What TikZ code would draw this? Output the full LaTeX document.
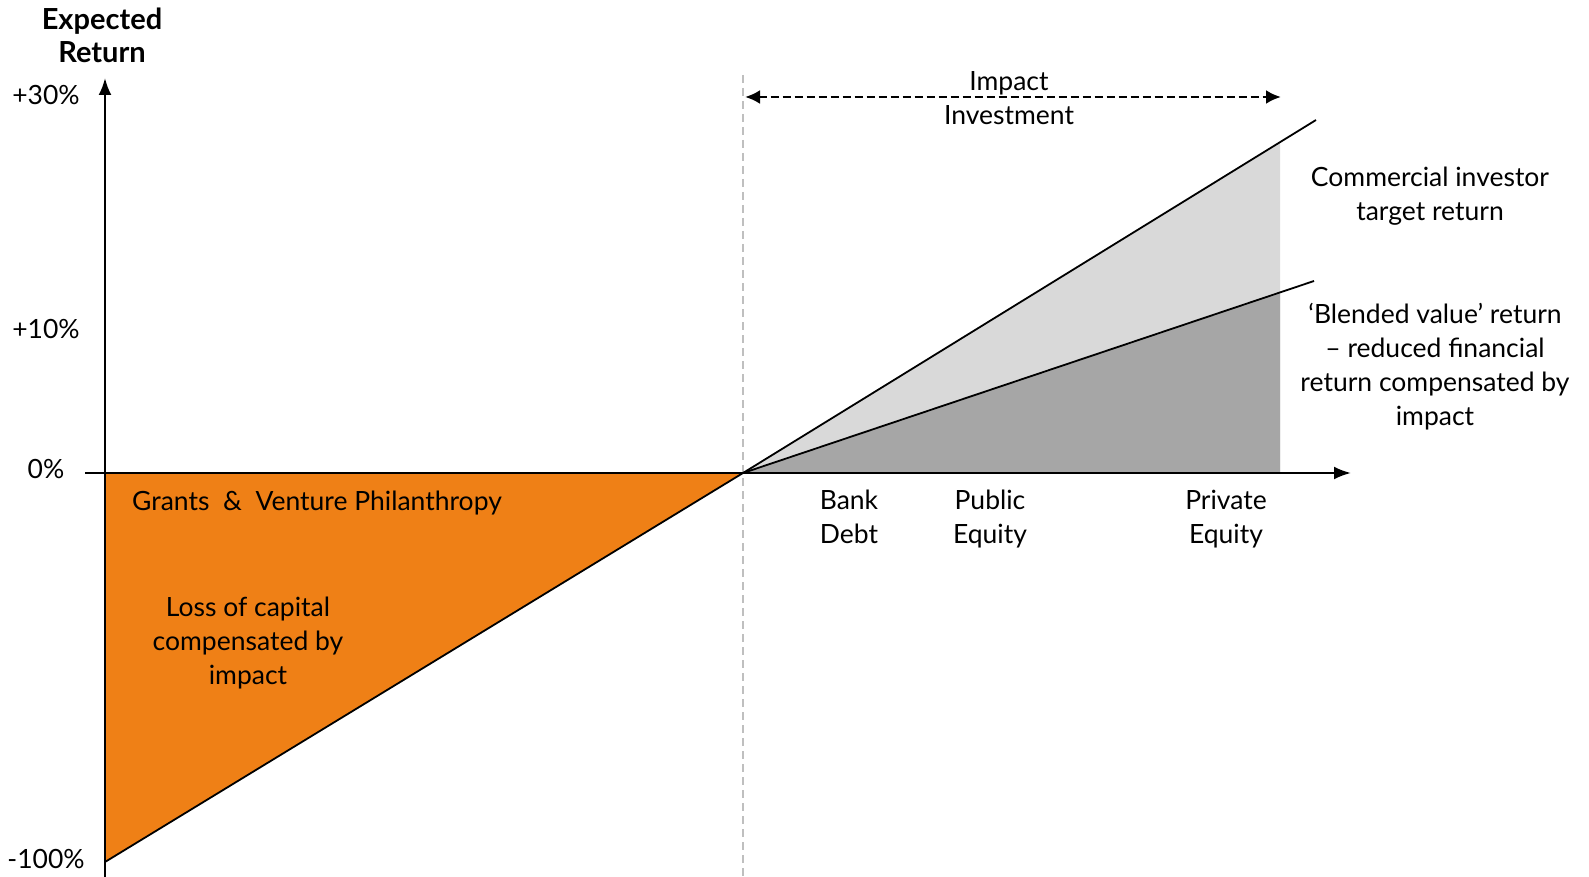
\documentclass[tikz,border=0pt]{standalone}
\usepackage{fontspec}
\setmainfont{Lato}
\usetikzlibrary{arrows.meta}
\definecolor{grantorange}{HTML}{EF8016}
\definecolor{lightfill}{HTML}{D9D9D9}
\definecolor{darkfill}{HTML}{A6A6A6}
\definecolor{guidegray}{HTML}{BFBFBF}
\newcommand{\ls}{\rule[-9pt]{0pt}{27pt}}
\tikzset{
  lbl/.style={font=\fontsize{26.5}{34}\selectfont, align=center, inner sep=0pt, yshift=-4pt},
  boldlbl/.style={font=\fontsize{29}{33}\selectfont\bfseries, align=center, inner sep=0pt},
  axisline/.style={line width=2.4pt, -{Latex[length=17pt,width=13pt]}},
  slopeline/.style={line width=1.8pt},
  guide/.style={guidegray, line width=1.2pt, dash pattern=on 8pt off 5pt},
  span/.style={line width=2.8pt, dash pattern=on 8pt off 4pt, {Latex[length=15pt,width=14pt]}-{Latex[length=15pt,width=14pt]}}
}
\begin{document}
\begin{tikzpicture}[x=1pt,y=-1pt]
\useasboundingbox (0,0) rectangle (1589,877);
% key points
\coordinate (O) at (743,473);
\coordinate (YB) at (105,877);
\coordinate (YT) at (105,78);
\coordinate (XL) at (85,473);
\coordinate (XR) at (1351,473);
\coordinate (Yo) at (105,473);
\coordinate (Ylow) at (105,862);
\coordinate (Uend) at (1316,120);
\coordinate (Lend) at (1314,281);
\coordinate (Utop) at (1280,142);
\coordinate (Ltop) at (1280,292);
\coordinate (Xb) at (1280,473);
\coordinate (Gt) at (743,75);
\coordinate (Gb) at (743,877);
\coordinate (Sl) at (745,97);
\coordinate (Sr) at (1281,97);
% guide line
\draw[guide] (Gt) -- (Gb);
% fills
\fill[grantorange] (Yo) -- (O) -- (Ylow) -- cycle;
\fill[lightfill] (O) -- (Utop) -- (Xb) -- cycle;
\fill[darkfill] (O) -- (Ltop) -- (Xb) -- cycle;
% slope lines
\draw[slopeline] (Ylow) -- (O);
\draw[slopeline] (O) -- (Uend);
\draw[slopeline] (O) -- (Lend);
% axes
\draw[axisline] (YB) -- (YT);
\draw[axisline] (XL) -- (XR);
% span arrow
\draw[span] (Sl) -- (Sr);
% labels
\node[boldlbl] (ylab) at (102,35) {Expected\\Return};
\node[lbl] (p30) at (46,95) {\ls+30\%};
\node[lbl] (p10) at (46,329) {\ls+10\%};
\node[lbl] (p0) at (46,469) {\ls0\%};
\node[lbl] (m100) at (46,859) {\ls-100\%};
\node[lbl] (impact) at (1009,82) {\ls Impact};
\node[lbl] (invest) at (1009,116) {\ls Investment};
\node[lbl] (grants) at (317,501) {\ls Grants\ \ \&\ \ Venture Philanthropy};
\node[lbl] (loss) at (248,641) {\ls Loss of capital\\\ls compensated by\\\ls impact};
\node[lbl] (bank) at (849,517) {\ls Bank\\\ls Debt};
\node[lbl] (public) at (990,517) {\ls Public\\\ls Equity};
\node[lbl] (private) at (1226,517) {\ls Private\\\ls Equity};
\node[lbl] (comm) at (1430,194) {\ls Commercial investor\\\ls target return};
\node[lbl] (blend) at (1435,365) {\ls ‘Blended value’ return\\\ls – reduced financial\\\ls return compensated by\\\ls impact};
\end{tikzpicture}
\end{document}
